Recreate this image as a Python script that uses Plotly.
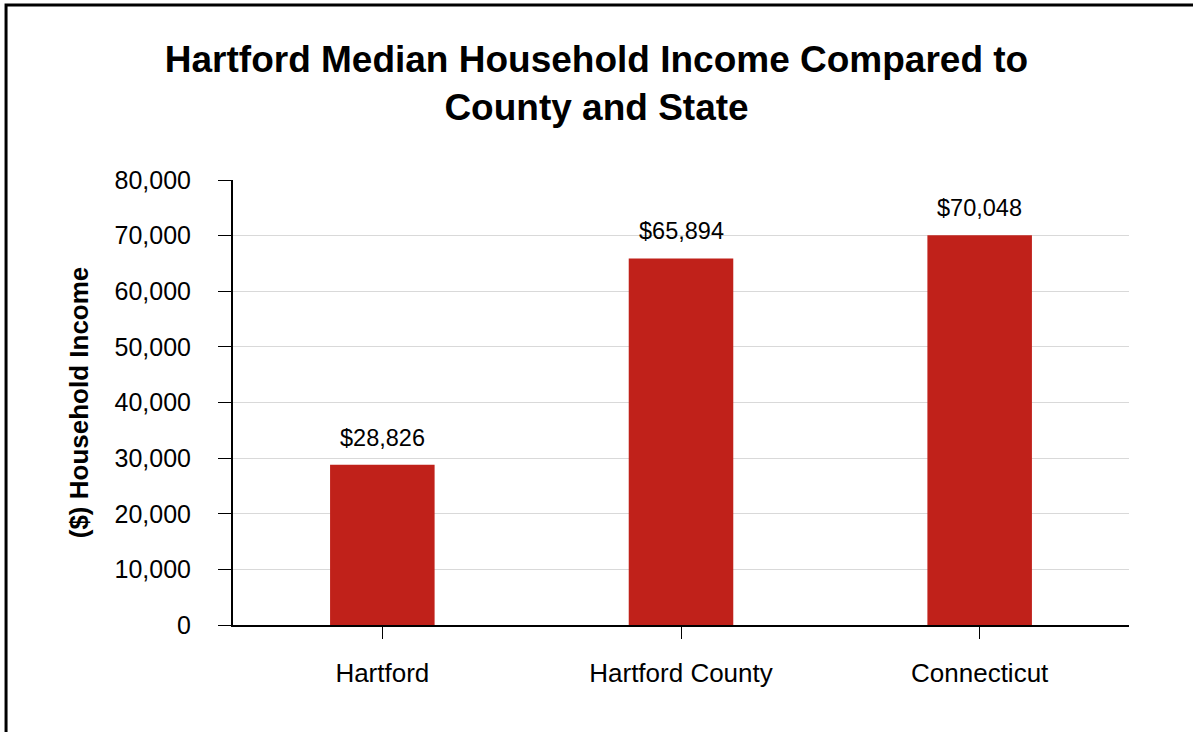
import plotly.graph_objects as go

categories = ["Hartford", "Hartford County", "Connecticut"]
income = [28826, 65894, 70048]
y_ticks = [0, 10000, 20000, 30000, 40000, 50000, 60000, 70000, 80000]

FONT = "Arial, Liberation Sans, sans-serif"
BAR_RED = "#c0211a"

fig = go.Figure()
fig.add_trace(go.Bar(
    x=categories,
    y=income,
    marker=dict(color=BAR_RED, line=dict(width=0)),
    width=0.35,
    hoverinfo="x+y",
))

# value labels above bars
for c, v in zip(categories, income):
    fig.add_annotation(
        x=c, y=v, text="${:,}".format(v),
        showarrow=False, yanchor="bottom", yshift=12,
        font=dict(family=FONT, size=23.5, color="black"),
    )

# outer frame (runs off the right and bottom like the original)
fig.add_shape(type="rect", xref="paper", yref="paper",
              x0=-0.2533, x1=1.2, y0=-0.5, y1=1.3933,
              line=dict(color="black", width=3), fillcolor="rgba(0,0,0,0)",
              layer="above")

fig.update_layout(
    width=1193, height=732,
    paper_bgcolor="white", plot_bgcolor="white",
    margin=dict(l=233, r=64, t=180, b=107),
    showlegend=False,
    font=dict(family=FONT, color="black"),
    title=dict(
        text="<b>Hartford Median Household Income Compared to<br>County and State</b>",
        x=0.5, xanchor="center", xref="container",
        y=0.902, yanchor="middle", yref="container",
        font=dict(family=FONT, size=37, color="black"),
    ),
)

fig.update_xaxes(
    showline=True, linecolor="black", linewidth=2,
    ticks="outside", ticklen=12, tickcolor="black", tickwidth=1,
    tickfont=dict(family=FONT, size=26, color="black"),
    ticklabelstandoff=12,
    showgrid=False, zeroline=False,
)
fig.update_yaxes(
    range=[0, 80000], tickvals=y_ticks,
    tickformat=",d",
    showline=True, linecolor="black", linewidth=2,
    ticks="outside", ticklen=13, tickcolor="black", tickwidth=1,
    tickfont=dict(family=FONT, size=25, color="black"),
    ticklabelstandoff=22,
    showgrid=True, gridcolor="#d9d9d9", gridwidth=1,
    zeroline=False,
    title=dict(text="<b>($) Household Income</b>", standoff=18,
               font=dict(family=FONT, size=26, color="black")),
)

fig.write_html("out.html", config={"displayModeBar": False},
               post_script="document.body.style.margin='0';")
